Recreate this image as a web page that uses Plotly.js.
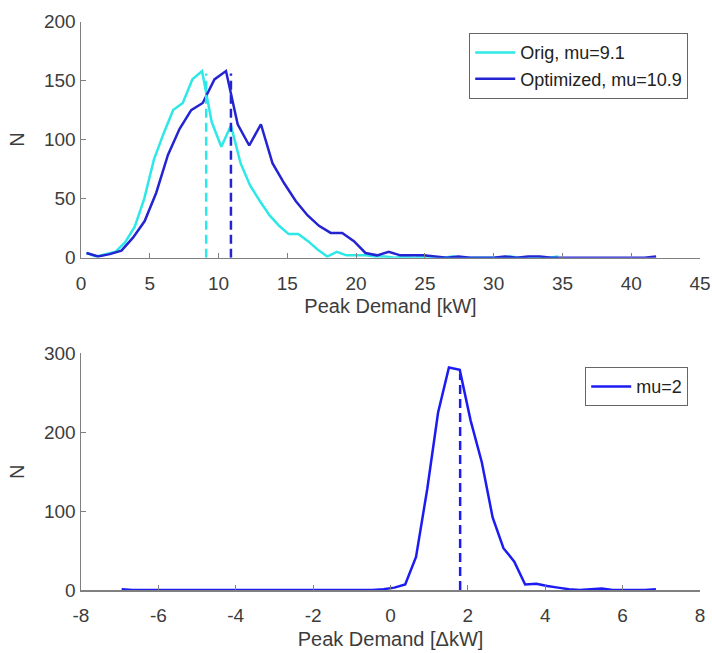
<!DOCTYPE html>
<html>
<head>
<meta charset="utf-8">
<script src="https://cdn.plot.ly/plotly-3.0.1.min.js"></script>
<style>html,body{margin:0;padding:0;background:#fff}#chart{width:712px;height:653px}</style>
</head>
<body>
<div id="chart"></div>
<script>
// ---- Top panel: peak demand histograms ----
const origX = [0.4,1.1,1.8,2.5,3.2,3.9,4.6,5.3,6.0,6.7,7.4,8.1,8.8,9.5,10.2,10.9,11.6,12.3,13.0,13.7,14.4,15.1,15.8,16.5,17.2,17.9,18.6,19.3,20.0,20.7,21.4,22.1,22.8,23.5,24.2,24.9,25.6,26.3,27.0,27.7,28.4,29.1,29.8,30.5,31.2,31.9,32.6,33.3,34.0,34.7];
const origN = [4,1,3,5,13,26,50,83,105,125,131,151,158,115,94,112,80,61,48,36,27,20,20,14,7,1,5,2,2,2,1,1,0,1,0,1,0,0,1,0,0,0,0,0,1,0,0,0,0,1];
const optX = [0.40,1.25,2.09,2.94,3.78,4.63,5.47,6.32,7.16,8.01,8.85,9.70,10.54,11.39,12.23,13.08,13.92,14.77,15.61,16.46,17.30,18.15,18.99,19.84,20.68,21.53,22.37,23.22,24.06,24.91,25.75,26.60,27.44,28.29,29.13,29.98,30.82,31.67,32.51,33.36,34.20,35.05,35.89,36.74,37.58,38.43,39.27,40.12,40.96,41.81];
const optN = [4,1,3,6,17,31,55,87,109,125,131,151,158,113,95,113,80,63,48,36,27,21,21,14,4,2,5,2,2,2,1,0,1,0,0,0,1,0,1,1,0,0,0,0,0,0,0,0,0,1];
const origMu = [9.1, 9.1];
const optMu = [10.9, 10.9];
const topMuN = [0, 156];

// ---- Bottom panel: difference histogram ----
const diffX = [-6.95,-6.67,-6.39,-6.10,-5.82,-5.54,-5.26,-4.98,-4.69,-4.41,-4.13,-3.85,-3.57,-3.28,-3.00,-2.72,-2.44,-2.16,-1.87,-1.59,-1.31,-1.03,-0.75,-0.46,-0.18,0.10,0.38,0.66,0.95,1.23,1.51,1.79,2.07,2.36,2.64,2.92,3.20,3.48,3.77,4.05,4.33,4.61,4.89,5.17,5.46,5.74,6.02,6.30,6.58,6.86];
const diffN = [1,0,0,0,0,0,0,0,0,0,0,0,0,0,0,0,0,0,0,0,0,0,0,0,1,3,7,42,128,225,282,279,215,162,92,53,36,7,8,5,3,1,0,1,2,0,0,0,0,1];
const diffMu = [1.8, 1.8];
const diffMuN = [0, 274];

const topXTicks = [0,5,10,15,20,25,30,35,40,45];
const topYTicks = [0,50,100,150,200];
const botXTicks = [-8,-6,-4,-2,0,2,4,6,8];
const botXLabels = ['-8','-6','-4','-2','0','2','4','6','8'];
const botYTicks = [0,100,200,300];

const CYAN = '#2ee8e8', BLUE1 = '#2424d2', BLUE2 = '#1c1cf2';
const AX = '#808080', TXT = '#3c3c3c';
const FONT = 'Liberation Sans, Arial, sans-serif';
const DASH = '9px,5px';

const traces = [
  {x: origX, y: origN, type: 'scatter', mode: 'lines', name: 'Orig, mu=9.1', line: {color: CYAN, width: 2.5}, xaxis: 'x', yaxis: 'y', legend: 'legend'},
  {x: optX, y: optN, type: 'scatter', mode: 'lines', name: 'Optimized, mu=10.9', line: {color: BLUE1, width: 2.5}, xaxis: 'x', yaxis: 'y', legend: 'legend'},
  {x: origMu, y: topMuN, type: 'scatter', mode: 'lines', showlegend: false, line: {color: CYAN, width: 2.5, dash: DASH}, xaxis: 'x', yaxis: 'y'},
  {x: optMu, y: topMuN, type: 'scatter', mode: 'lines', showlegend: false, line: {color: BLUE1, width: 2.5, dash: DASH}, xaxis: 'x', yaxis: 'y'},
  {x: diffX, y: diffN, type: 'scatter', mode: 'lines', name: 'mu=2', line: {color: BLUE2, width: 2.5}, xaxis: 'x2', yaxis: 'y2', legend: 'legend2'},
  {x: diffMu, y: diffMuN, type: 'scatter', mode: 'lines', showlegend: false, line: {color: BLUE2, width: 2.5, dash: DASH}, xaxis: 'x2', yaxis: 'y2'}
];

const axBase = {
  showgrid: false, zeroline: false, showline: true, linecolor: AX, linewidth: 1.5,
  ticks: 'inside', ticklen: 5, tickcolor: AX, tickwidth: 1.2, mirror: false,
  tickfont: {family: FONT, size: 19, color: TXT}, fixedrange: true
};
const W = 712, H = 653;
const layout = {
  width: W, height: H,
  margin: {l: 0, r: 0, t: 0, b: 0},
  paper_bgcolor: '#fff', plot_bgcolor: '#fff',
  font: {family: FONT, color: TXT},
  showlegend: true,
  xaxis: Object.assign({}, axBase, {domain: [81/W, 700/W], range: [0, 45], tickvals: topXTicks, anchor: 'y', ticklabelstandoff: 8,
    title: {text: 'Peak Demand [kW]', font: {family: FONT, size: 20, color: TXT}, standoff: 6}}),
  yaxis: Object.assign({}, axBase, {domain: [(H-257.7)/H, (H-21.5)/H], range: [0, 200], tickvals: topYTicks, anchor: 'x',
    title: {text: 'N', font: {family: FONT, size: 20, color: TXT}, standoff: 14}}),
  xaxis2: Object.assign({}, axBase, {domain: [81/W, 700/W], range: [-8, 8], tickvals: botXTicks, ticktext: botXLabels, tickmode: 'array', anchor: 'y2', ticklabelstandoff: 8,
    title: {text: 'Peak Demand [ΔkW]', font: {family: FONT, size: 20, color: TXT}, standoff: 6}}),
  yaxis2: Object.assign({}, axBase, {domain: [(H-590)/H, (H-353.3)/H], range: [0, 300], tickvals: botYTicks, anchor: 'x2',
    title: {text: 'N', font: {family: FONT, size: 20, color: TXT}, standoff: 14}}),
  legend: {x: 688/W, y: (H-33)/H, xanchor: 'right', yanchor: 'top', bgcolor: '#fff',
    bordercolor: '#666', borderwidth: 1.2, font: {family: FONT, size: 18, color: '#222'}, tracegroupgap: 0, itemwidth: 40},
  legend2: {x: 688/W, y: (H-367)/H, xanchor: 'right', yanchor: 'top', bgcolor: '#fff',
    bordercolor: '#666', borderwidth: 1.2, font: {family: FONT, size: 18, color: '#222'}, itemwidth: 40}
};
Plotly.newPlot('chart', traces, layout, {staticPlot: true, displayModeBar: false});
</script>
</body>
</html>
